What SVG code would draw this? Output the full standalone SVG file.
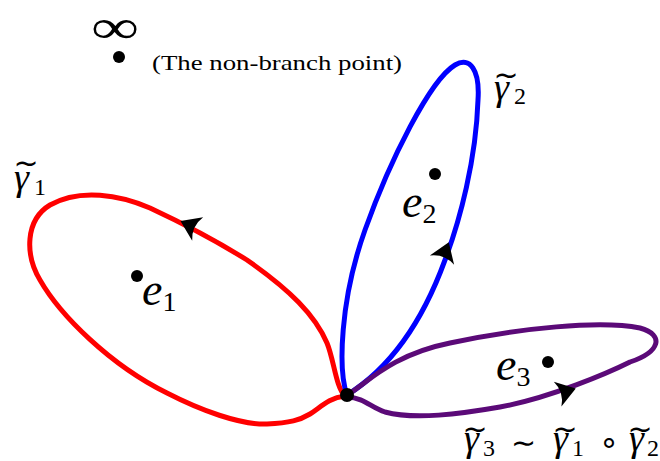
<svg xmlns="http://www.w3.org/2000/svg" width="660" height="461" viewBox="0 0 660 461">
<defs>
<style>
.loop{fill:none;stroke-width:5;stroke-linecap:round;stroke-linejoin:round}
.txt{font-family:"Liberation Serif","DejaVu Serif",serif;fill:#000}
.it{font-style:italic}
.gam{font-family:"Liberation Serif",serif;font-style:italic;font-size:38px}
.sub{font-family:"Liberation Serif",serif;font-size:24px}
.tl{font-family:"DejaVu Sans",sans-serif;font-size:30px}
.op{font-family:"DejaVu Sans",sans-serif}
.arr{fill:#000}
</style>
<path id="stealth" d="M 5,0 L -14,-13 Q -7,0 -14,13 Z"/>
</defs>
<rect width="660" height="461" fill="#fff"/>
<g id="connectors">
<path id="red-loop" class="loop" stroke="#ff0000" d="M 345,396 C 336,388 334,360 327,343 C 315,315 290,290 247,260 C 215,240 180,222 150,208 C 120,195 80,188 50,205 C 25,220 25,255 40,280 C 60,315 110,365 167,393 C 200,410 240,425 267,424 C 290,423 300,420 310,414 C 320,408 328,398 345,396"/>
<path id="blue-loop" class="loop" stroke="#0000ff" d="M 347,395 C 338,370 340,300 365,230 C 390,160 430,80 455,65 C 470,56 480,70 478,100 C 476,160 460,220 445,260 C 425,315 395,365 347,395"/>
<path id="purple-loop" class="loop" stroke="#5b0a78" d="M 347,395 C 365,385 390,355 450,343 C 520,328 600,320 640,328 C 665,335 660,352 630,362 C 610,372 550,398 500,407 C 460,414 415,420 385,412 C 370,407 365,398 347,397"/>
<use href="#stealth" class="arr" transform="translate(185,223) rotate(205)"/>
<use href="#stealth" class="arr" transform="translate(447,247) rotate(-69)"/>
<use href="#stealth" class="arr" transform="translate(571,390) rotate(-17)"/>
</g>
<g id="infinity">
<text class="txt" x="0" y="0" font-size="48" text-anchor="middle" transform="translate(115,43) scale(1.4,1)">∞</text>
<circle cx="119" cy="57" r="6" fill="#000"/>
<text class="txt" x="152" y="70" font-size="21" textLength="250" lengthAdjust="spacingAndGlyphs">(The non-branch point)</text>
</g>
<g id="base-point">
<circle cx="347" cy="395" r="7" fill="#000"/>
</g>
<g id="e1">
<circle cx="137" cy="276" r="6" fill="#000"/>
<text class="txt" x="142" y="305" font-size="46"><tspan class="it">e</tspan><tspan font-size="28" dy="6">1</tspan></text>
</g>
<g id="e2">
<circle cx="435" cy="174" r="6" fill="#000"/>
<text class="txt" x="402" y="217" font-size="46"><tspan class="it">e</tspan><tspan font-size="28" dy="6">2</tspan></text>
</g>
<g id="e3">
<circle cx="548" cy="362" r="6" fill="#000"/>
<text class="txt" x="496" y="380" font-size="46"><tspan class="it">e</tspan><tspan font-size="28" dy="6">3</tspan></text>
</g>
<g id="label-gamma1">
<text class="txt"><tspan class="gam" x="14" y="190">γ</tspan><tspan class="sub" x="34" y="195">1</tspan><tspan class="tl" x="13.5" y="172.5">~</tspan></text>
</g>
<g id="label-gamma2">
<text class="txt"><tspan class="gam" x="494" y="100">γ</tspan><tspan class="sub" x="514" y="104">2</tspan><tspan class="tl" x="493.5" y="85">~</tspan></text>
</g>
<g id="label-gamma3">
<text class="txt"><tspan class="gam" x="464" y="451">γ</tspan><tspan class="sub" x="483" y="456">3</tspan><tspan class="tl" x="462.5" y="439">~</tspan><tspan class="op" font-size="30" x="511" y="453">∼</tspan><tspan class="gam" x="553" y="451">γ</tspan><tspan class="sub" x="572" y="456">1</tspan><tspan class="tl" x="552.5" y="439">~</tspan><tspan class="op" font-size="32" x="599" y="453">∘</tspan><tspan class="gam" x="629" y="451">γ</tspan><tspan class="sub" x="647" y="456">2</tspan><tspan class="tl" x="627.5" y="439">~</tspan></text>
</g>
</svg>
